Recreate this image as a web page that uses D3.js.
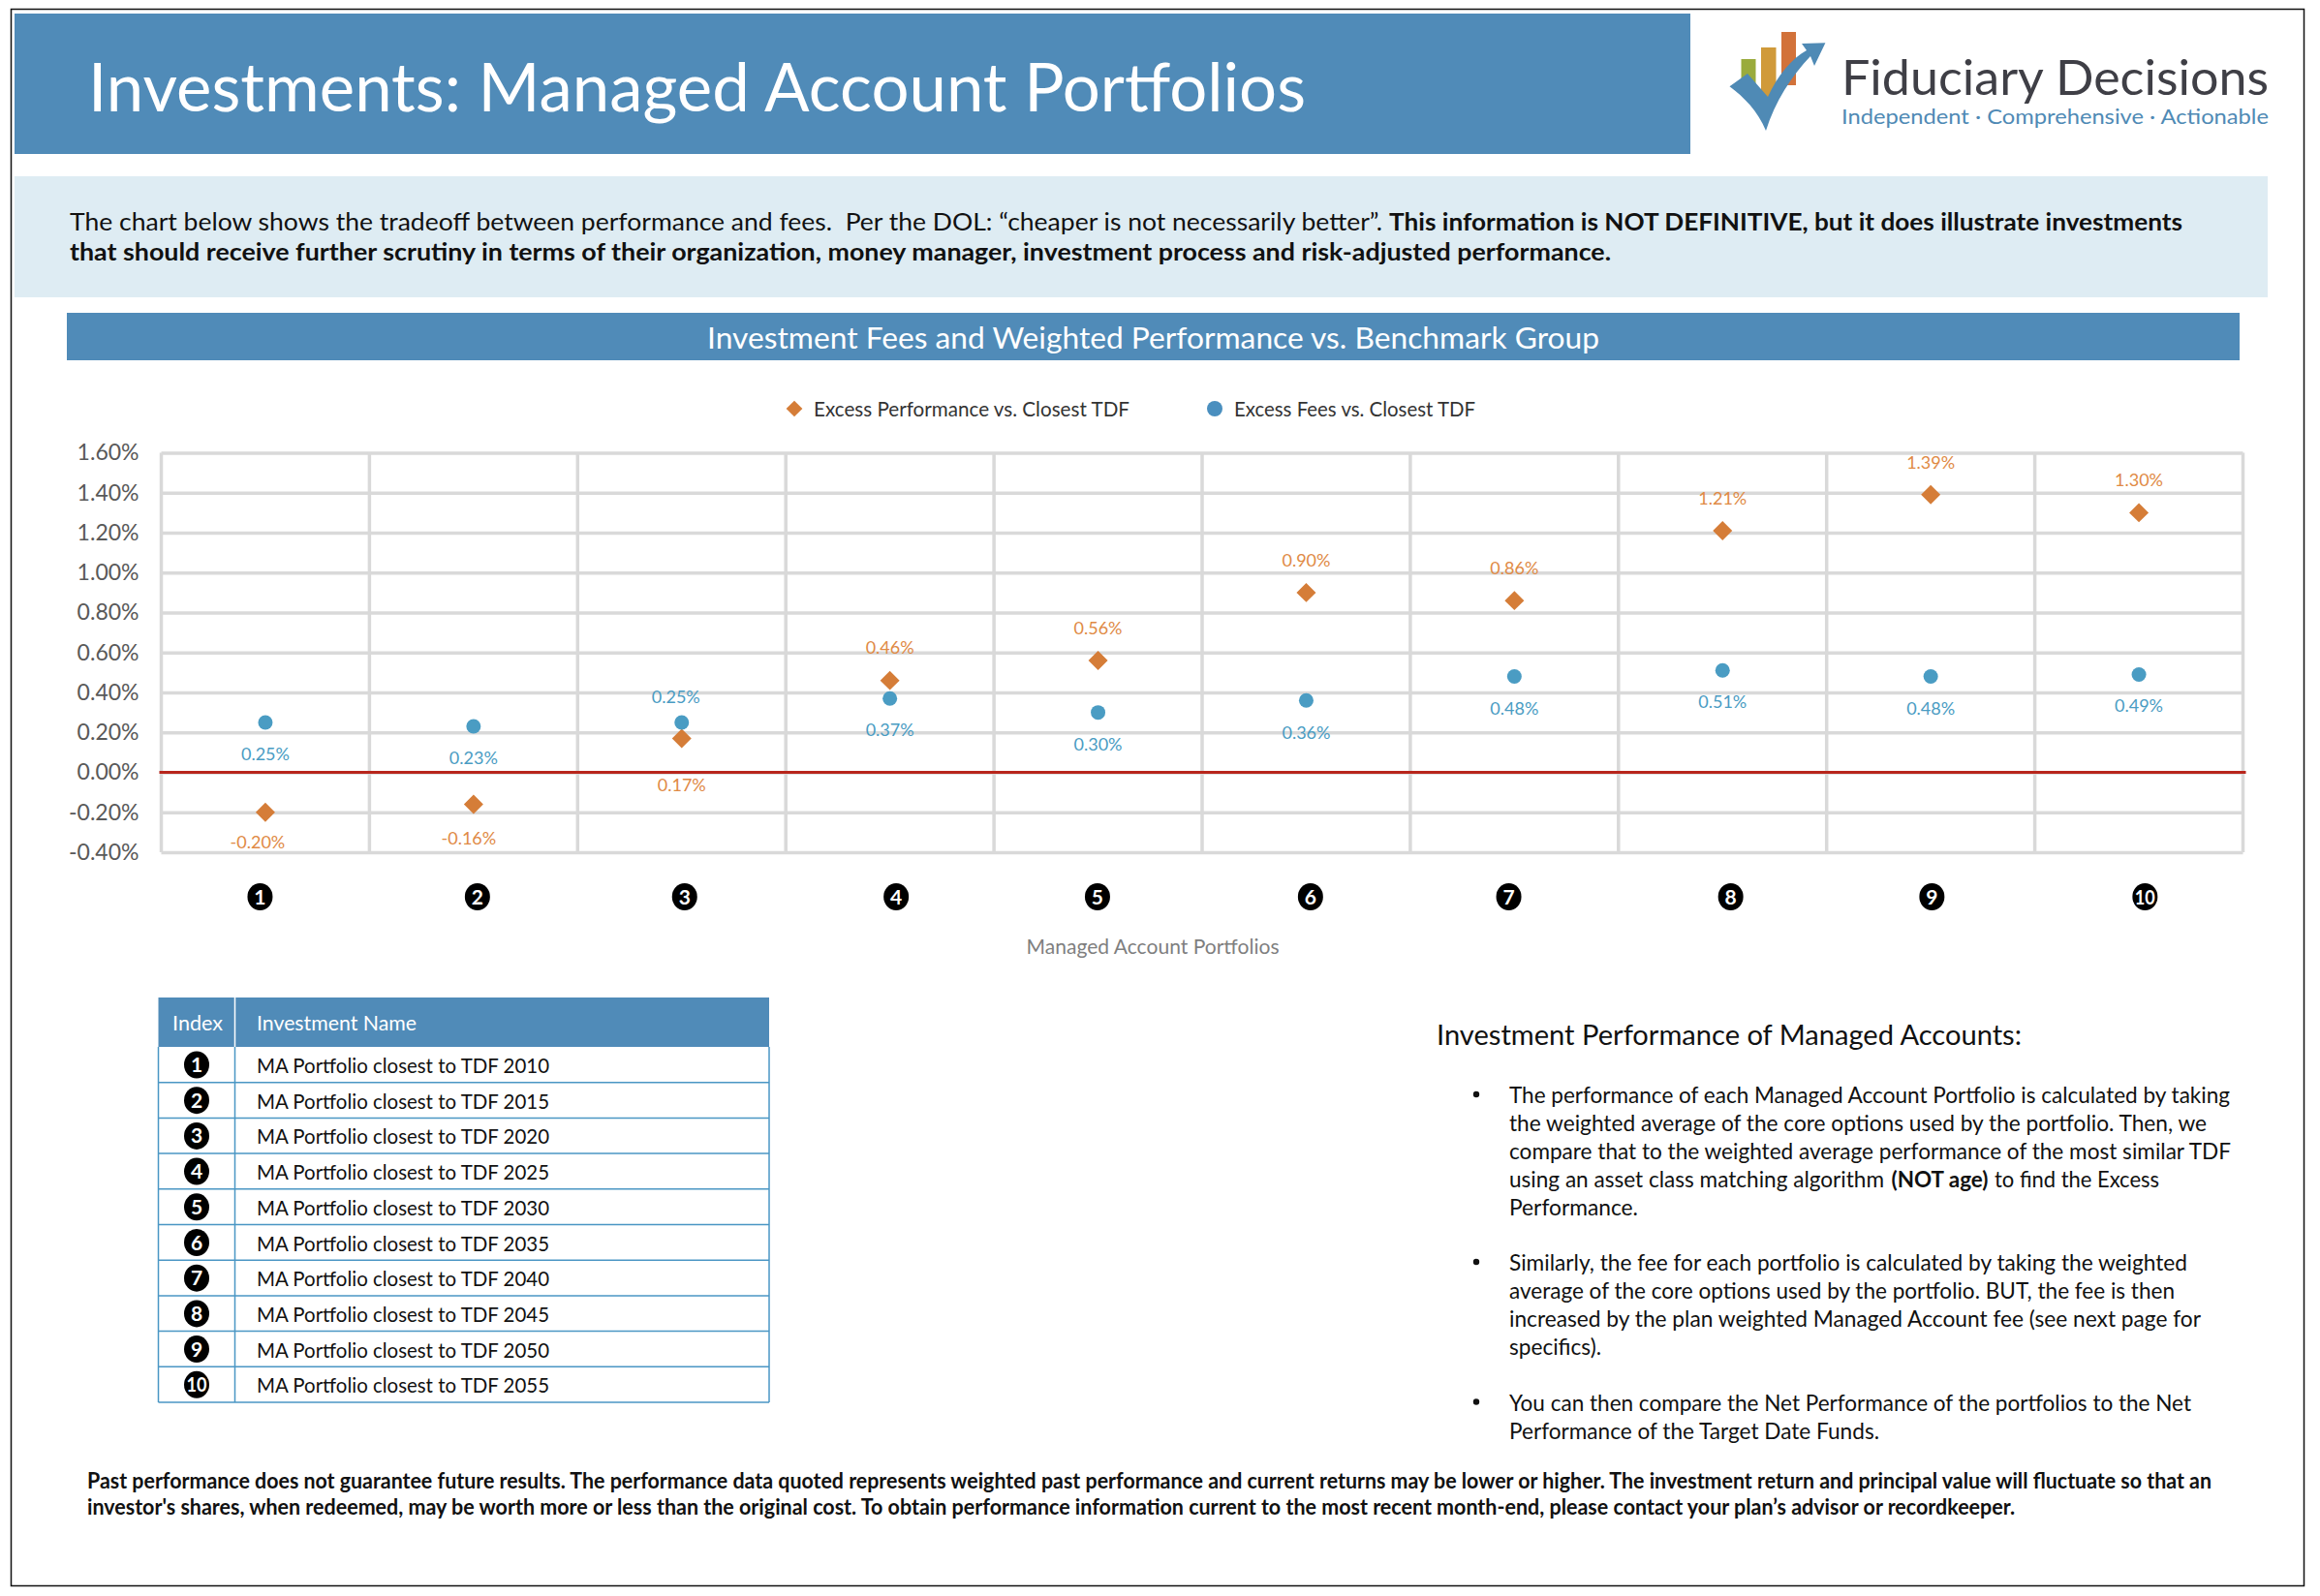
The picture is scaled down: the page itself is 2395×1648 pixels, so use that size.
<!DOCTYPE html>
<html><head><meta charset="utf-8">
<script src="https://cdnjs.cloudflare.com/ajax/libs/d3/7.8.5/d3.min.js"></script>
<style>html,body{margin:0;padding:0;background:#fff}svg{display:block}text{font-family:Lato,"Open Sans",sans-serif}</style>
</head><body><div id="c"></div>
<script>
const portfolios = ["1","2","3","4","5","6","7","8","9","10"];
const excessPerformance = [-0.20,-0.16,0.17,0.46,0.56,0.90,0.86,1.21,1.39,1.30];
const excessFees = [0.25,0.23,0.25,0.37,0.30,0.36,0.48,0.51,0.48,0.49];
const yTicks = [-0.4,-0.2,0,0.2,0.4,0.6,0.8,1.0,1.2,1.4,1.6];
const seriesNames = ["Excess Performance vs. Closest TDF","Excess Fees vs. Closest TDF"];
const investmentNames = ["MA Portfolio closest to TDF 2010","MA Portfolio closest to TDF 2015","MA Portfolio closest to TDF 2020","MA Portfolio closest to TDF 2025","MA Portfolio closest to TDF 2030","MA Portfolio closest to TDF 2035","MA Portfolio closest to TDF 2040","MA Portfolio closest to TDF 2045","MA Portfolio closest to TDF 2050","MA Portfolio closest to TDF 2055"];

const W=2395,H=1648;
const BLUE="#508bb8";
const svg=d3.select("#c").append("svg").attr("width",W).attr("height",H);
function fit(x,y,str,w,size,o={}){
  const t=svg.append("text").attr("x",x).attr("y",y).attr("font-size",size)
    .attr("fill",o.fill||"#111").attr("font-weight",o.weight||400).text(str);
  if(o.anchor)t.attr("text-anchor",o.anchor);
  if(w)t.attr("textLength",w).attr("lengthAdjust","spacingAndGlyphs");
  return t;
}
function rect(x,y,w,h,f){return svg.append("rect").attr("x",x).attr("y",y).attr("width",w).attr("height",h).attr("fill",f);}
// black oval with a white number, used on the category axis and in the table
function badge(sel,px,py,label){
  sel.append("ellipse").attr("cx",px).attr("cy",py).attr("rx",13).attr("ry",14).attr("fill","#000");
  const t=sel.append("text").attr("x",px).attr("y",py+7.5).attr("text-anchor","middle")
    .attr("font-size",21).attr("font-weight",700).attr("fill","#fff").text(label);
  if(label.length>1)t.attr("textLength",21).attr("lengthAdjust","spacingAndGlyphs");
}

// frame
svg.append("rect").attr("x",11.5).attr("y",9.5).attr("width",2367).attr("height",1628).attr("fill","none").attr("stroke","#111").attr("stroke-width",1.5);
// banner
rect(15,14,1730,145,BLUE);
fit(91,115,"Investments: Managed Account Portfolios",1257,70,{fill:"#fff"});
// logo
rect(1797.5,61,15,30,"#9aab3c");
rect(1818,49,15.5,55,"#d09a3a");
rect(1839,33,15,55,"#d2723a");
svg.append("path").attr("fill","#4f8ab5").attr("d","M1785.5,89.3 L1804,76 L1825,100 C1835,78 1850,60 1865,52 L1860,45 L1884.4,44.3 L1873,68 L1869,58 C1850,78 1832,105 1823,135 C1815,115 1800,100 1785.5,89.3 Z");
fit(1901,98,"Fiduciary Decisions",441,50,{fill:"#3f3f46"});
fit(1901,128,"Independent · Comprehensive · Actionable",441,22,{fill:"#4f8ab5"});
// intro
rect(15,182,2326,125,"#deecf3");
fit(72,237.5,"The chart below shows the tradeoff between performance and fees.  Per the DOL: “cheaper is not necessarily better”.",1355,25).attr("xml:space","preserve");
fit(1434,237.5,"This information is NOT DEFINITIVE, but it does illustrate investments",819,25,{weight:700});
fit(72,268.5,"that should receive further scrutiny in terms of their organization, money manager, investment process and risk-adjusted performance.",1591,25,{weight:700});
// chart header
rect(69,323,2243,49,BLUE);
fit(730,359.5,"Investment Fees and Weighted Performance vs. Benchmark Group",921,31,{fill:"#fff"});

// chart
const plot={l:166.5,r:2315.5,t:467.5,b:880};
const x=d3.scaleBand().domain(portfolios).range([plot.l,plot.r]);
const y=d3.scaleLinear().domain([-0.4,1.6]).range([plot.b,plot.t]);
const GRID="#d9d9d9";
const pct=v=>d3.format(".2f")(v).replace("−","-")+"%";
const yAxis=svg.append("g").attr("transform",`translate(${plot.l},0)`)
  .call(d3.axisLeft(y).tickValues(yTicks).tickSize(-(plot.r-plot.l)).tickPadding(23).tickFormat(pct));
yAxis.select(".domain").remove();
yAxis.selectAll("line").attr("stroke",GRID).attr("stroke-width",3.5);
yAxis.selectAll("text").attr("font-size",23).attr("fill","#595959").style("font-family","Lato");
svg.append("g").selectAll("line").data(portfolios.concat("end")).join("line")
  .attr("x1",d=>d==="end"?plot.r:x(d)).attr("x2",d=>d==="end"?plot.r:x(d))
  .attr("y1",plot.t).attr("y2",plot.b).attr("stroke",GRID).attr("stroke-width",3.5);
svg.append("line").attr("x1",plot.l-2).attr("x2",plot.r+3).attr("y1",y(0)).attr("y2",y(0)).attr("stroke","#b8261c").attr("stroke-width",3);

// category axis (badges sit slightly off-centre in the original)
const badgeNudge=[-5.5,4,3,6.5,-.6,4.4,-5.8,8.4,1.2,6.3];
const xAxis=svg.append("g").attr("transform","translate(0,926)")
  .call(d3.axisBottom(x).tickSize(0).tickFormat(""));
xAxis.select(".domain").remove();
xAxis.selectAll(".tick").each(function(d,i){
  const g=d3.select(this); g.select("text").remove();
  badge(g,badgeNudge[i],0,d);
});
fit(1190,984.5,"Managed Account Portfolios",261,22,{fill:"#7f7f7f",anchor:"middle"});

// marks
const ORANGE="#d57d38",TEAL="#4a9cc3";
const cx=i=>x(portfolios[i])+x.bandwidth()/2;
const diamond=d3.symbol().type(d3.symbolSquare).size(200);
svg.append("g").selectAll("path").data(excessPerformance).join("path")
  .attr("d",diamond()).attr("fill",ORANGE)
  .attr("transform",(d,i)=>`translate(${cx(i)},${y(d)}) rotate(45)`);
svg.append("g").selectAll("circle").data(excessFees).join("circle")
  .attr("cx",(d,i)=>cx(i)).attr("cy",d=>y(d)).attr("r",7.5).attr("fill",TEAL);
// data labels: offset from the mark as in the original
const perfNudge=[[-8,37],[-5,41],[0,55],[0,-28],[0,-27],[0,-27],[0,-27],[0,-27],[0,-27],[0,-27]];
const feeNudge=[[0,39],[0,39],[-6,-20],[0,39],[0,39],[0,40],[0,39],[0,39],[0,39],[0,39]];
svg.append("g").selectAll("text").data(excessPerformance).join("text")
  .attr("x",(d,i)=>cx(i)+perfNudge[i][0]).attr("y",(d,i)=>y(d)+perfNudge[i][1])
  .attr("text-anchor","middle").attr("font-size",18).attr("fill","#e08a45").text(pct);
svg.append("g").selectAll("text").data(excessFees).join("text")
  .attr("x",(d,i)=>cx(i)+feeNudge[i][0]).attr("y",(d,i)=>y(d)+feeNudge[i][1])
  .attr("text-anchor","middle").attr("font-size",18).attr("fill",TEAL).text(pct);
// legend
svg.append("path").attr("d",d3.symbol().type(d3.symbolSquare).size(140)()).attr("fill",ORANGE).attr("transform","translate(820,422) rotate(45)");
fit(840,429.5,seriesNames[0],326,21.5,{fill:"#333"});
svg.append("circle").attr("cx",1254).attr("cy",422).attr("r",8).attr("fill","#4a8fbf");
fit(1274,429.5,seriesNames[1],249,21.5,{fill:"#333"});

// table
const T={l:163.5,r:794,m:242.5,t:1030,hb:1081,rh:36.7};
rect(T.l,T.t,T.r-T.l,T.hb-T.t,BLUE);
svg.append("line").attr("x1",T.m).attr("x2",T.m).attr("y1",T.t).attr("y2",T.hb).attr("stroke","#fff").attr("stroke-width",1.5);
fit(178,1064,"Index",52,21,{fill:"#fff"});
fit(265,1064,"Investment Name",165,21,{fill:"#fff"});
const tableLine="#4a96c4";
const rows=svg.append("g").selectAll("g").data(investmentNames).join("g")
  .attr("transform",(d,i)=>`translate(0,${T.hb+i*T.rh})`);
rows.append("line").attr("x1",T.l).attr("x2",T.r).attr("y1",T.rh).attr("y2",T.rh).attr("stroke",tableLine).attr("stroke-width",1.5);
rows.append("text").attr("x",265).attr("y",27).attr("font-size",21.5).attr("fill","#111").attr("textLength",302).attr("lengthAdjust","spacingAndGlyphs").text(d=>d);
rows.each(function(d,i){badge(d3.select(this),(T.l+T.m)/2,18.5,portfolios[i]);});
[T.l,T.m,T.r].forEach(v=>svg.append("line").attr("x1",v).attr("x2",v).attr("y1",T.hb).attr("y2",T.hb+10*T.rh).attr("stroke",tableLine).attr("stroke-width",1.5));

// notes
fit(1483,1078.5,"Investment Performance of Managed Accounts:",604,28,{fill:"#111"});
const noteLines=[
 [1139,"The performance of each Managed Account Portfolio is calculated by taking",744,1],
 [1168,"the weighted average of the core options used by the portfolio. Then, we",720],
 [1197,"compare that to the weighted average performance of the most similar TDF",745],
 [1226,null,0],
 [1255,"Performance.",133],
 [1312,"Similarly, the fee for each portfolio is calculated by taking the weighted",700,1],
 [1341,"average of the core options used by the portfolio. BUT, the fee is then",687],
 [1370,"increased by the plan weighted Managed Account fee (see next page for",714],
 [1399,"specifics).",95],
 [1456.5,"You can then compare the Net Performance of the portfolios to the Net",704,1],
 [1485.5,"Performance of the Target Date Funds.",382]];
noteLines.forEach(([yy,s,w,b])=>{
  if(s) fit(1558,yy,s,w,23);
  else{
    fit(1558,yy,"using an asset class matching algorithm",387,23);
    fit(1952.5,yy,"(NOT age)",100,23,{weight:700});
    fit(2059,yy,"to find the Excess",170,23);
  }
  if(b) svg.append("circle").attr("cx",1524).attr("cy",yy-9).attr("r",3.2).attr("fill","#111");
});
// footer
fit(90,1536.5,"Past performance does not guarantee future results. The performance data quoted represents weighted past performance and current returns may be lower or higher. The investment return and principal value will fluctuate so that an",2193,22,{weight:700});
fit(90,1563.5,"investor's shares, when redeemed, may be worth more or less than the original cost. To obtain performance information current to the most recent month-end, please contact your plan’s advisor or recordkeeper.",1990,22,{weight:700});
</script></body></html>
